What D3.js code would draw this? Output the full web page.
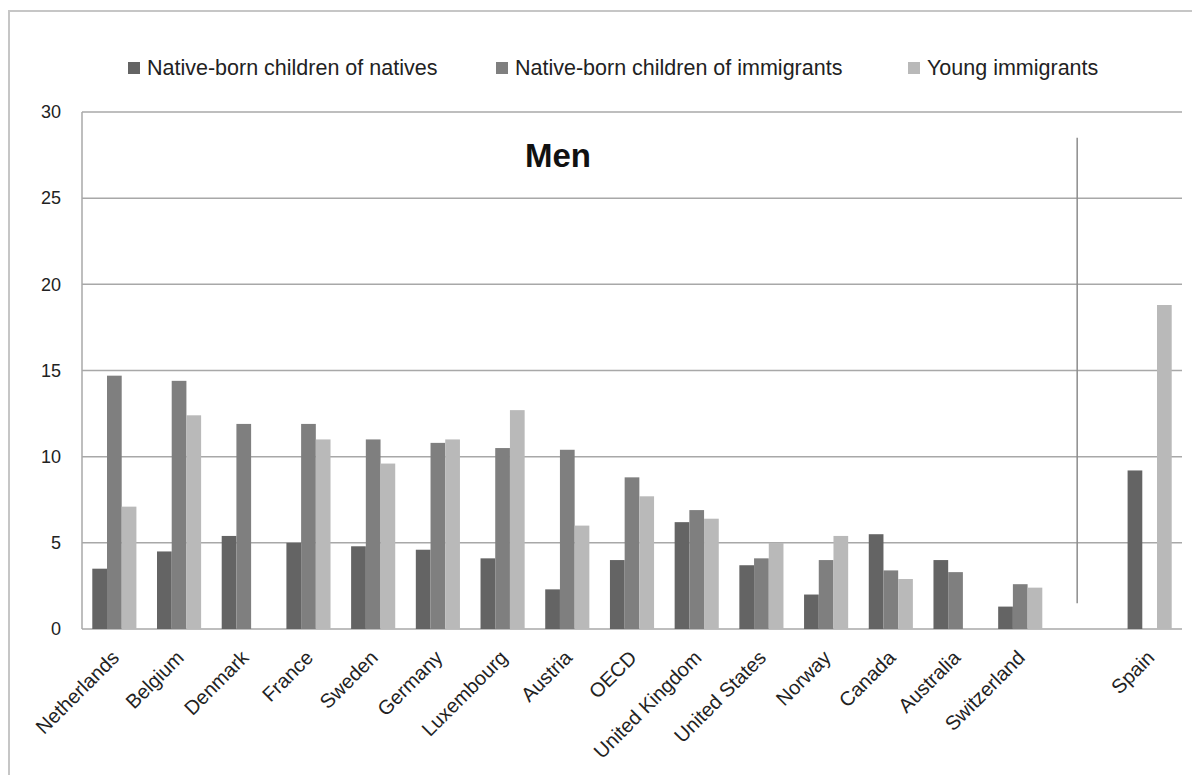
<!DOCTYPE html>
<html>
<head>
<meta charset="utf-8">
<script src="https://cdn.jsdelivr.net/npm/d3@7"></script>
<style>
  body { margin: 0; background: #fff; }
  svg { display: block; font-family: 'Liberation Sans', Arial, sans-serif; }
</style>
</head>
<body>
<svg width="1192" height="775"></svg>
<script>
const countries = ['Netherlands', 'Belgium', 'Denmark', 'France', 'Sweden', 'Germany', 'Luxembourg',
  'Austria', 'OECD', 'United Kingdom', 'United States', 'Norway', 'Canada', 'Australia', 'Switzerland', '', 'Spain'];

const seriesNames = ['Native-born children of natives', 'Native-born children of immigrants', 'Young immigrants'];

// null = no bar
const nativesOfNatives = [3.5, 4.5, 5.4, 5.0, 4.8, 4.6, 4.1, 2.3, 4.0, 6.2, 3.7, 2.0, 5.5, 4.0, 1.3, null, 9.2];
const nativesOfImmigrants = [14.7, 14.4, 11.9, 11.9, 11.0, 10.8, 10.5, 10.4, 8.8, 6.9, 4.1, 4.0, 3.4, 3.3, 2.6, null, null];
const youngImmigrants = [7.1, 12.4, null, 11.0, 9.6, 11.0, 12.7, 6.0, 7.7, 6.4, 5.0, 5.4, 2.9, null, 2.4, null, 18.8];

const yTicks = [0, 5, 10, 15, 20, 25, 30];
const colors = ['#646464', '#7f7f7f', '#b9b9b9'];

const margin = { top: 112, right: 10, bottom: 146, left: 82 };
const width = 1192, height = 775;
const graphWidth = width - margin.left - margin.right;
const graphHeight = height - margin.top - margin.bottom;

const svg = d3.select('svg');

// outer frame
svg.append('rect')
  .attr('x', 9).attr('y', 11)
  .attr('width', 1200).attr('height', 800)
  .attr('fill', 'none')
  .attr('stroke', '#c6c6c6')
  .attr('stroke-width', 2);

const xScale = d3.scaleBand()
  .domain(countries.map((c, i) => i))
  .range([0, graphWidth]);

const xInner = d3.scaleBand()
  .domain([0, 1, 2])
  .range([0, xScale.bandwidth()])
  .paddingOuter(0.7);

const yScale = d3.scaleLinear().domain([0, 30]).range([graphHeight, 0]);

const graph = svg.append('g')
  .attr('transform', `translate(${margin.left}, ${margin.top})`);

// gridlines
graph.append('g')
  .selectAll('line')
  .data(yTicks)
  .enter()
  .append('line')
  .attr('x1', 0).attr('x2', graphWidth)
  .attr('y1', d => yScale(d)).attr('y2', d => yScale(d))
  .attr('stroke', '#a8a8a8')
  .attr('stroke-width', 1.5);

graph.append('line')
  .attr('x1', 0).attr('x2', 0)
  .attr('y1', 0).attr('y2', graphHeight)
  .attr('stroke', '#a8a8a8')
  .attr('stroke-width', 1.5);

// y labels
const yAxis = d3.axisLeft(yScale).tickValues(yTicks).tickSize(0).tickPadding(21);
const yG = graph.append('g').call(yAxis);
yG.select('.domain').remove();
yG.selectAll('text')
  .attr('font-size', 18)
  .attr('font-family', "'Liberation Sans', Arial, sans-serif")
  .attr('fill', '#222');

// bars
const allSeries = [nativesOfNatives, nativesOfImmigrants, youngImmigrants];
allSeries.forEach((values, s) => {
  graph.append('g')
    .selectAll('rect')
    .data(values.map((v, i) => ({ i, v })).filter(d => d.v != null))
    .enter()
    .append('rect')
    .attr('x', d => xScale(d.i) + xInner(s))
    .attr('width', xInner.bandwidth())
    .attr('y', d => yScale(d.v))
    .attr('height', d => graphHeight - yScale(d.v))
    .attr('fill', colors[s]);
});

// separator before Spain
const gapIdx = countries.indexOf('');
const sepX = xScale(gapIdx) + xScale.step() * 0.38;
graph.append('line')
  .attr('x1', sepX).attr('x2', sepX)
  .attr('y1', yScale(28.5)).attr('y2', yScale(1.5))
  .attr('stroke', '#8c8c8c')
  .attr('stroke-width', 1.5);

// x labels
graph.append('g')
  .selectAll('text')
  .data(countries.map((c, i) => ({ c, i })).filter(d => d.c !== ''))
  .enter()
  .append('text')
  .text(d => d.c)
  .attr('transform', d => `translate(${xScale(d.i) + xScale.bandwidth() / 2 + 6}, ${graphHeight + 30}) rotate(-45)`)
  .attr('text-anchor', 'end')
  .attr('font-size', 20)
  .attr('fill', '#222');

// title
svg.append('text')
  .text('Men')
  .attr('x', 558)
  .attr('y', 167)
  .attr('text-anchor', 'middle')
  .attr('font-size', 33)
  .attr('font-weight', 'bold')
  .attr('fill', '#111');

// legend
const legendX = [128, 496, 908];
const legend = svg.append('g').attr('id', 'legend');
seriesNames.forEach((name, s) => {
  legend.append('rect')
    .attr('x', legendX[s]).attr('y', 62)
    .attr('width', 12).attr('height', 12)
    .attr('fill', colors[s]);
  legend.append('text')
    .text(name)
    .attr('x', legendX[s] + 19)
    .attr('y', 75)
    .attr('font-size', 21.5)
    .attr('fill', '#222');
});
</script>
</body>
</html>
